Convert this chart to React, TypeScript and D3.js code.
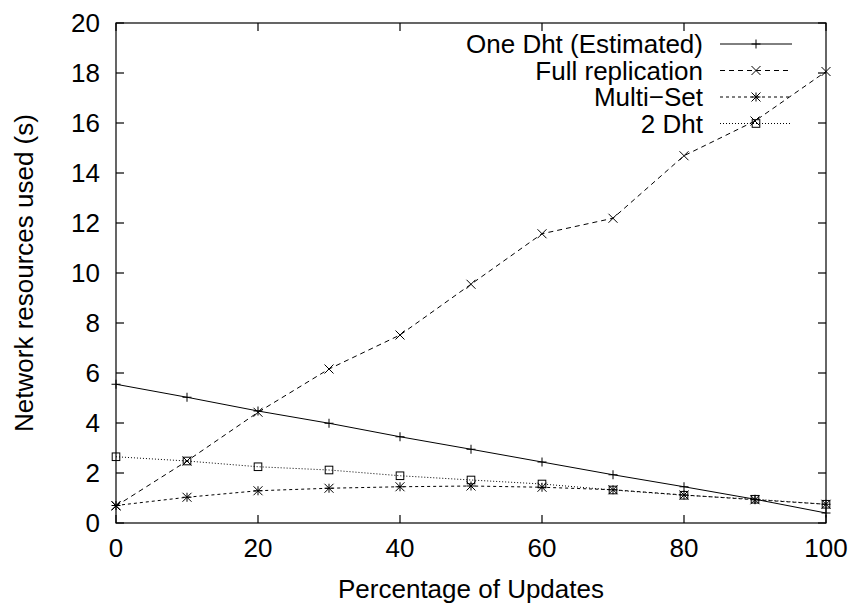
import React from "react";
import * as d3 from "d3";

const xValues = [0, 10, 20, 30, 40, 50, 60, 70, 80, 90, 100];
const oneDht = [5.55, 5.03, 4.48, 3.99, 3.45, 2.95, 2.44, 1.93, 1.45, 0.95, 0.4];
const fullReplication = [0.68, 2.48, 4.43, 6.16, 7.52, 9.55, 11.57, 12.19, 14.69, 16.08, 18.06];
const multiSet = [0.7, 1.03, 1.29, 1.39, 1.45, 1.48, 1.43, 1.33, 1.12, 0.93, 0.75];
const twoDht = [2.65, 2.48, 2.25, 2.12, 1.89, 1.72, 1.56, 1.32, 1.11, 0.95, 0.75];
const xTicks = [0, 20, 40, 60, 80, 100];
const yTicks = [0, 2, 4, 6, 8, 10, 12, 14, 16, 18, 20];
const seriesNames = ["One Dht (Estimated)", "Full replication", "Multi\u2212Set", "2 Dht"];

const W = 852;
const H = 603;
const left = 116;
const right = 826;
const top = 23;
const bottom = 523;
const FONT = "'Liberation Sans', Arial, Helvetica, sans-serif";
const FS = 26;

type Marker = "plus" | "cross" | "star" | "square";

function MarkerShape({ x, y, type }: { x: number; y: number; type: Marker }) {
  const s = 4.5;
  const st = { stroke: "#000", strokeWidth: 1, fill: "none" };
  if (type === "plus")
    return <path d={`M${x - s},${y}H${x + s}M${x},${y - s}V${y + s}`} {...st} />;
  if (type === "cross")
    return <path d={`M${x - s},${y - s}L${x + s},${y + s}M${x - s},${y + s}L${x + s},${y - s}`} {...st} />;
  if (type === "star")
    return (
      <path
        d={`M${x - s},${y}H${x + s}M${x},${y - s}V${y + s}M${x - s},${y - s}L${x + s},${y + s}M${x - s},${y + s}L${x + s},${y - s}`}
        {...st}
      />
    );
  const q = 3.8;
  return <rect x={x - q} y={y - q} width={2 * q} height={2 * q} {...st} />;
}

export default function App() {
  const xs = d3.scaleLinear().domain([0, 100]).range([left, right]);
  const ys = d3.scaleLinear().domain([0, 20]).range([bottom, top]);
  const line = d3
    .line<number>()
    .x((_, i) => xs(xValues[i]))
    .y((d) => ys(d));

  const series: { name: string; data: number[]; dash: string; marker: Marker }[] = [
    { name: seriesNames[0], data: oneDht, dash: "none", marker: "plus" },
    { name: seriesNames[1], data: fullReplication, dash: "5,4", marker: "cross" },
    { name: seriesNames[2], data: multiSet, dash: "3,3", marker: "star" },
    { name: seriesNames[3], data: twoDht, dash: "1,2", marker: "square" },
  ];

  const tick = 8;
  const legX1 = 720;
  const legX2 = 792;
  const legTextX = 703;
  const legY0 = 44;
  const legStep = 26.5;

  return (
    <svg
      width={W}
      height={H}
      style={{ position: "absolute", left: 0, top: 0, background: "#fff" }}
      fontFamily={FONT}
    >
      <rect x={0} y={0} width={W} height={H} fill="#fff" />
      {/* border */}
      <rect x={left} y={top} width={right - left} height={bottom - top} fill="none" stroke="#000" strokeWidth={1.2} />
      {/* ticks */}
      {xTicks.map((t) => (
        <g key={"x" + t}>
          <line x1={xs(t)} x2={xs(t)} y1={bottom} y2={bottom - tick} stroke="#000" strokeWidth={1.2} />
          <line x1={xs(t)} x2={xs(t)} y1={top} y2={top + tick} stroke="#000" strokeWidth={1.2} />
          <text x={xs(t)} y={557} fontSize={FS} textAnchor="middle">
            {t}
          </text>
        </g>
      ))}
      {yTicks.map((t) => (
        <g key={"y" + t}>
          <line x1={left} x2={left + tick} y1={ys(t)} y2={ys(t)} stroke="#000" strokeWidth={1.2} />
          <line x1={right} x2={right - tick} y1={ys(t)} y2={ys(t)} stroke="#000" strokeWidth={1.2} />
          <text x={100} y={ys(t)} dy="0.35em" fontSize={FS} textAnchor="end">
            {t}
          </text>
        </g>
      ))}
      {/* axis labels */}
      <text x={(left + right) / 2} y={598} fontSize={FS} textAnchor="middle">
        Percentage of Updates
      </text>
      <text
        transform={`translate(33,${(top + bottom) / 2}) rotate(-90)`}
        fontSize={FS}
        textAnchor="middle"
      >
        Network resources used (s)
      </text>
      {/* series */}
      {series.map((s) => (
        <g key={s.name}>
          <path d={line(s.data) || ""} fill="none" stroke="#000" strokeWidth={1} strokeDasharray={s.dash} />
          {s.data.map((v, i) => (
            <MarkerShape key={i} x={xs(xValues[i])} y={ys(v)} type={s.marker} />
          ))}
        </g>
      ))}
      {/* legend */}
      {series.map((s, i) => {
        const y = legY0 + i * legStep;
        return (
          <g key={"leg" + i}>
            <text x={legTextX} y={y} dy="0.35em" fontSize={FS} textAnchor="end">
              {s.name}
            </text>
            <line x1={legX1} x2={legX2} y1={y} y2={y} stroke="#000" strokeWidth={1} strokeDasharray={s.dash} />
            <MarkerShape x={(legX1 + legX2) / 2} y={y} type={s.marker} />
          </g>
        );
      })}
    </svg>
  );
}
